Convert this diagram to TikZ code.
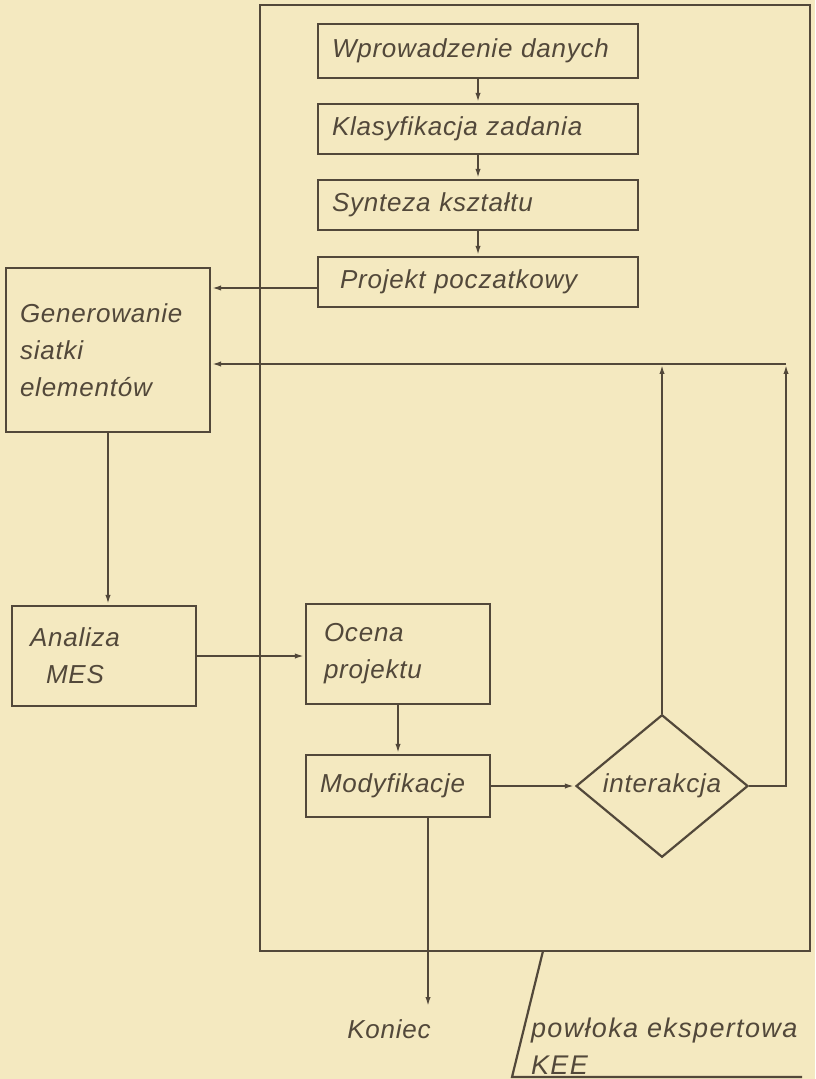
\documentclass[tikz,border=0pt]{standalone}
\usepackage{fontspec}
\setmainfont{Liberation Sans}[LetterSpace=3]
\usetikzlibrary{shapes.geometric, arrows.meta}
\definecolor{papier}{RGB}{244,233,192}
\definecolor{tusz}{RGB}{82,72,58}

\begin{document}
\begin{tikzpicture}[x=0.5pt, y=-0.5pt, line width=1.1pt, color=tusz,
  font=\itshape\fontsize{13}{18.5}\selectfont,
  blok/.style={draw, inner xsep=7pt, inner ysep=0pt, align=left},
  pil/.style={-{Latex[length=5pt,width=2.6pt]}}]
\fill[papier] (0,0) rectangle (815,1079);
\useasboundingbox (0,0) rectangle (815,1079);
\node[draw, minimum width=275pt, minimum height=473pt, inner sep=0pt] (powloka) at (535,478) {};
\node[blok, text width=146pt, minimum height=27pt] (wprow) at (478,51) {Wprowadzenie danych};
\node[blok, text width=146pt, minimum height=25pt] (klas) at (478,129) {Klasyfikacja zadania};
\node[blok, text width=146pt, minimum height=25pt] (synt) at (478,205) {Synteza kształtu};
\node[blok, text width=146pt, minimum height=25pt] (proj) at (478,282) {\hspace*{4pt}Projekt poczatkowy};
\node[blok, text width=88pt, minimum height=82pt] (gen) at (108,350) {Generowanie\\siatki\\elementów};
\node[blok, text width=78pt, minimum height=50pt] (anal) at (104,656) {\hspace*{2pt}Analiza\\\hspace*{10pt}MES};
\node[blok, text width=78pt, minimum height=50pt] (ocena) at (398,654) {\hspace*{2pt}Ocena\\\hspace*{2pt}projektu};
\node[blok, text width=78pt, minimum height=31pt] (modyf) at (398,786) {Modyfikacje};
\node[draw, diamond, minimum width=86pt, minimum height=70pt, inner sep=0pt] (inter) at (662,786) {interakcja};
\coordinate (powrot) at (786,364);
\coordinate (kon) at (428,1007);
\coordinate (k1) at (543,951);
\coordinate (k2) at (512,1077);
\coordinate (k3) at (802,1077);
\draw[pil] (wprow) -- (klas);
\draw[pil] (klas) -- (synt);
\draw[pil] (synt) -- (proj);
\draw[pil] (proj.west) ++(0,6) -- (gen.east |- 0,288);
\draw[pil] (gen.south) -- (gen.south |- anal.north);
\draw[pil] (anal.east) -- (anal.east -| ocena.west);
\draw[pil] (ocena) -- (modyf);
\draw[pil] (modyf) -- (inter);
\draw[pil] (inter.north) -- (inter.north |- powrot);
\draw[pil] (inter.east) -| (powrot);
\draw[pil] (powrot) -- (powrot -| gen.east);
\draw[pil] (modyf.south -| kon) -- (kon);
\node (koniec) at (389,1029) {Koniec};
\draw (k1) -- (k2) -- (k3);
\node[align=left, anchor=west, inner sep=0pt, font=\itshape\fontsize{13.5}{18.5}\selectfont\addfontfeatures{LetterSpace=5}] (kee) at (530,1046) {powłoka ekspertowa\\KEE};
\end{tikzpicture}
\end{document}
